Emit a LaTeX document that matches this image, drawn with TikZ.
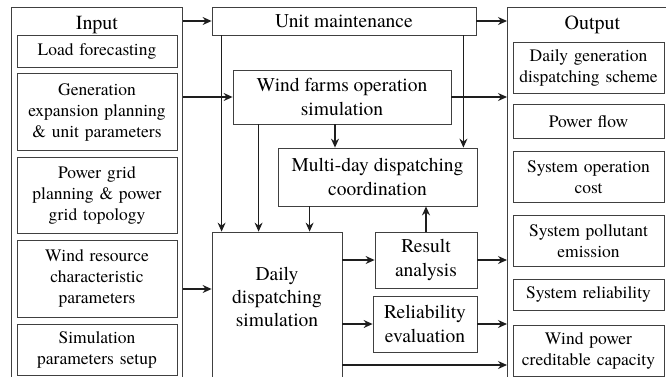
\documentclass[tikz,border=0pt]{standalone}
\usepackage{fontspec}
\setmainfont{texgyretermes}[Extension=.otf,UprightFont=*-regular,BoldFont=*-bold,ItalicFont=*-italic,BoldItalicFont=*-bolditalic]
\usetikzlibrary{arrows.meta,positioning}
\definecolor{cline}{HTML}{404040}
\definecolor{carrow}{HTML}{1E1E1E}
\tikzset{
  x=1pt,y=1pt,
  box/.style={draw=cline,line width=0.8pt,align=center,inner sep=2pt,font=\fontsize{17.5}{21}\selectfont},
  sidebox/.style={box,text width=154pt,inner xsep=3pt},
  outbox/.style={box,text width=145pt,inner xsep=3pt},
  midbox/.style={box,font=\fontsize{19.5}{23.4}\selectfont},
  midtxt/.style={align=center,inner sep=1pt,font=\fontsize{19.5}{23.4}\selectfont},
  frame/.style={draw=cline,line width=0.8pt,anchor=north west,inner sep=0pt},
  lbl/.style={font=\fontsize{20}{24}\selectfont,inner sep=1pt},
  flow/.style={->,line width=1.2pt,draw=carrow},
  >={Stealth[length=9pt,width=8pt,inset=3pt]}
}

\begin{document}
\begin{tikzpicture}
    \useasboundingbox (0,0) rectangle (666,-376);
    \clip (0,0) rectangle (666,-376);
    % frames
    \node[frame,minimum width=171pt,minimum height=400pt] (inframe) at (11,-7) {};
    \node[frame,minimum width=170pt,minimum height=400pt] (outframe) at (507,-7) {};
    \node[lbl] (inlbl) at ([yshift=-18pt]inframe.north) {Input};
    \node[lbl] (outlbl) at ([yshift=-18pt]outframe.north) {Output};
    % input items
    \node[sidebox,minimum height=32pt] (load) at (97,-51) {Load forecasting};
    \node[sidebox,minimum height=77pt,below=6pt of load] (genexp) {Generation\\expansion planning\\\& unit parameters};
    \node[sidebox,minimum height=76pt,below=6pt of genexp] (grid) {Power grid\\planning \& power\\grid topology};
    \node[sidebox,minimum height=77pt,below=6pt of grid] (windres) {Wind resource\\characteristic\\parameters};
    \node[sidebox,minimum height=51pt,below=6pt of windres] (simpar) {Simulation\\parameters setup};
    % output items
    \node[outbox,minimum height=51pt] (scheme) at (588.5,-67.5) {Daily generation\\dispatching scheme};
    \node[outbox,minimum height=34pt,below=11pt of scheme] (pflow) {Power flow};
    \node[outbox,minimum height=51pt,below=12pt of pflow] (opcost) {System operation\\cost};
    \node[outbox,minimum height=51pt,below=12pt of opcost] (emis) {System pollutant\\emission};
    \node[outbox,minimum height=31pt,below=12pt of emis] (reli) {System reliability};
    \node[outbox,minimum height=51pt,below=14pt of reli] (credit) {Wind power\\creditable capacity};
    % simulation blocks
    \node[midbox,minimum width=264pt,minimum height=28pt] (maint) at (344,-21) {Unit maintenance};
    \node[midbox,minimum width=218pt,minimum height=54pt] (wfsim) at (342,-97) {Wind farms operation\\simulation};
    \node[midbox,minimum width=199pt,minimum height=58pt] (multi) at (377.5,-177) {Multi-day dispatching\\coordination};
    \node[midbox,minimum width=130pt,minimum height=146pt] (daily) at (277,-305) {};
    \node[midtxt] (dailytxt) at ([yshift=8pt]daily.center) {Daily\\dispatching\\simulation};
    \node[midbox,minimum width=102pt,minimum height=56pt] (result) at (426,-260) {Result\\analysis};
    \node[midbox,minimum width=104pt,minimum height=56pt] (releval) at (425,-324) {Reliability\\evaluation};
    % connectors
    \draw[flow] (maint.west -| inframe.east) -- (maint.west);
    \draw[flow] (maint.east) -- (maint.east -| outframe.west);
    \draw[flow] (wfsim.west -| inframe.east) -- (wfsim.west);
    \draw[flow] (wfsim.east) -- (wfsim.east -| outframe.west);
    \draw[flow] ([yshift=16pt]daily.west -| inframe.east) -- ([yshift=16pt]daily.west);
    \draw[flow] ([xshift=10pt]maint.south west) -- ([xshift=10pt]maint.south west |- daily.north);
    \draw[flow] ([xshift=-13pt]maint.south east) -- ([xshift=-13pt]maint.south east |- multi.north);
    \draw[flow] ([xshift=26pt]wfsim.south west) -- ([xshift=26pt]wfsim.south west |- daily.north);
    \draw[flow] ([xshift=-7pt]wfsim.south) -- ([xshift=-7pt]wfsim.south |- multi.north);
    \draw[flow] ([xshift=32pt]multi.south west) -- ([xshift=32pt]multi.south west |- daily.north);
    \draw[flow] (result.west -| daily.east) -- (result.west);
    \draw[flow] (releval.west -| daily.east) -- (releval.west);
    \draw[flow] (result.north) -- (result.north |- multi.south);
    \draw[flow] (result.east) -- (result.east -| outframe.west);
    \draw[flow] (releval.east) -- (releval.east -| outframe.west);
    \draw[flow] ([yshift=-60pt]daily.east) -- ([yshift=-60pt]daily.east -| outframe.west);
  \end{tikzpicture}
\end{document}
